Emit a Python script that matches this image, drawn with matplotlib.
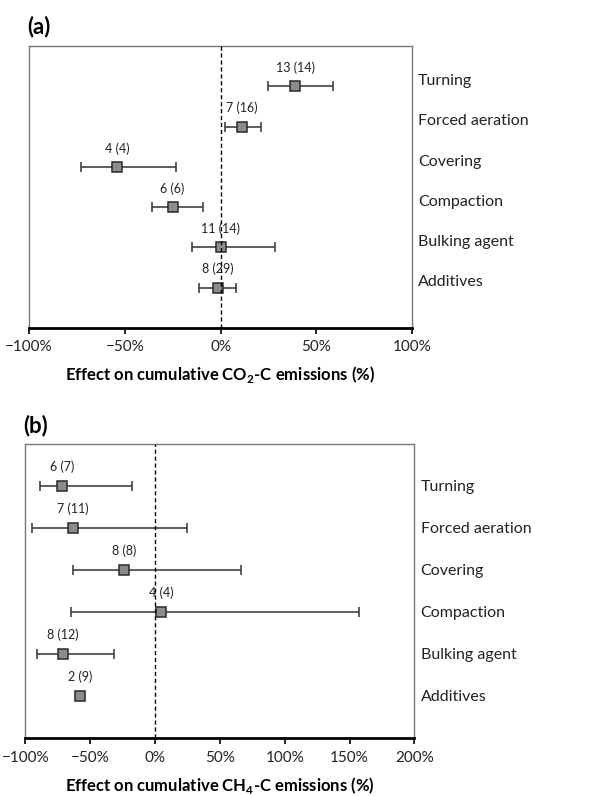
import matplotlib.pyplot as plt
import numpy as np

plt.rcParams['font.family'] = ['Lato', 'DejaVu Sans']
plt.rcParams['mathtext.fontset'] = 'custom'
plt.rcParams['mathtext.rm'] = 'Lato'
plt.rcParams['mathtext.bf'] = 'Lato:bold'

practices = ['Turning', 'Forced aeration', 'Covering', 'Compaction',
             'Bulking agent', 'Additives']

# panel (a): CO2-C, effect in %
co2_mean = [39, 11, -54, -25, 0, -1.5]
co2_low = [25, 2.5, -73, -36, -15, -11]
co2_high = [58.5, 21, -23, -9, 28.5, 8]
co2_n = ['13 (14)', '7 (16)', '4 (4)', '6 (6)', '11 (14)', '8 (29)']

# panel (b): CH4-C, effect in %
ch4_mean = [-71.5, -63, -24, 5, -71, -57.5]
ch4_low = [-89, -95, -63, -65, -91, np.nan]
ch4_high = [-18, 24.5, 66, 157, -31.5, np.nan]
ch4_n = ['6 (7)', '7 (11)', '8 (8)', '4 (4)', '8 (12)', '2 (9)']


def panel(ax, mean, low, high, n, xlim, xticks, xlabel, tag, lab_dy, tag_y):
    mean = np.array(mean, dtype=float)
    low = np.array(low, dtype=float)
    high = np.array(high, dtype=float)
    y = np.arange(1, len(mean) + 1)
    has_err = ~np.isnan(low)
    err = np.vstack([mean - low, high - mean])
    ax.errorbar(mean[has_err], y[has_err], xerr=err[:, has_err], fmt='none',
                ecolor='#333333', elinewidth=1.1, capsize=3.5, capthick=1.1,
                zorder=2)
    ax.plot(mean, y, 's', ms=7.5, mfc='#8c8c8c', mec='#2a2a2a', mew=1.1,
            zorder=3)
    ax.axvline(0, color='black', ls=(0, (3, 2)), lw=1, zorder=4)
    for xi, yi, lab in zip(mean, y, n):
        ax.text(xi, yi - 0.46, lab, ha='center', va='center', fontsize=9,
                color='#222222')
    for yi, lab in zip(y, practices):
        ax.text(1.016, yi + lab_dy, lab, transform=ax.get_yaxis_transform(),
                ha='left', va='center', fontsize=11.5, color='#222222')
    ax.set_ylim(7, 0)
    ax.set_xlim(*xlim)
    ax.set_yticks([])
    ax.set_xticks(xticks)
    ax.set_xticklabels([('\u2212' if t < 0 else '') + '%d%%' % abs(t)
                        for t in xticks], fontsize=11, color='#222222')
    ax.tick_params(axis='x', length=4, width=1.2, pad=5)
    for s in ['top', 'left', 'right']:
        ax.spines[s].set_color('#777777')
        ax.spines[s].set_linewidth(1)
    ax.spines['bottom'].set_linewidth(2)
    ax.spines['bottom'].set_color('black')
    ax.set_xlabel(xlabel, fontsize=12, fontweight='bold', labelpad=7)
    ax.text(-0.005, tag_y, tag, transform=ax.transAxes, fontsize=16,
            fontweight='bold', ha='left', va='bottom')


fig = plt.figure(figsize=(6.07, 7.96), dpi=100)
ax1 = fig.add_axes([0.0478, 0.588, 0.631, 0.354])
ax2 = fig.add_axes([0.0417, 0.0725, 0.641, 0.370])

panel(ax1, co2_mean, co2_low, co2_high, co2_n, (-100, 100),
      [-100, -50, 0, 50, 100],
      'Effect on cumulative CO$_\\mathbf{2}$-C emissions (%)', '(a)', -0.13, 1.03)
panel(ax2, ch4_mean, ch4_low, ch4_high, ch4_n, (-100, 200),
      [-100, -50, 0, 50, 100, 150, 200],
      'Effect on cumulative CH$_\\mathbf{4}$-C emissions (%)', '(b)', 0.03, 1.025)

fig.savefig('out.png', dpi=100)
